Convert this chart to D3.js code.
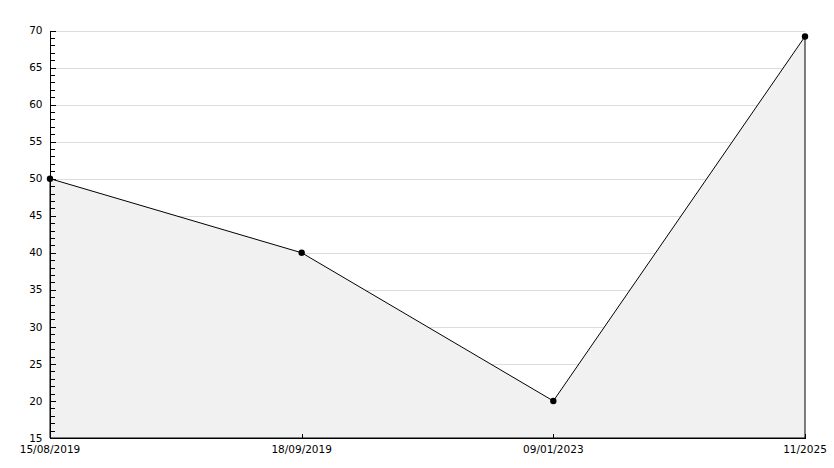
<!DOCTYPE html>
<html>
<head>
<meta charset="utf-8">
<script src="https://cdn.jsdelivr.net/npm/d3@7"></script>
<style>
  body { margin: 0; background: #fff; }
  text { font-family: "DejaVu Sans", sans-serif; font-size: 10.5px; fill: #000; }
  line { shape-rendering: crispEdges; }
</style>
</head>
<body>
<script>
// data
var dates = ["15/08/2019", "18/09/2019", "09/01/2023", "11/2025"];
var values = [50, 40, 20, 69.2];
var yTicks = [15, 20, 25, 30, 35, 40, 45, 50, 55, 60, 65, 70];

var width = 834,
    height = 468;
var margin = {top: 30.5, right: 29, bottom: 30, left: 50};

var svg = d3.select("body").append("svg")
    .attr("width", width)
    .attr("height", height);

var x = d3.scalePoint()
    .domain(dates)
    .range([margin.left, width - margin.right]);

var y = d3.scaleLinear()
    .domain([15, 70])
    .range([height - margin.bottom, margin.top]);

//gridlines
svg.append("g")
  .selectAll("line")
  .data(yTicks.slice(1))
  .enter().append("line")
    .attr("x1", margin.left)
    .attr("x2", width - margin.right)
    .attr("y1", function(d) { return Math.round(y(d)) + 0.5; })
    .attr("y2", function(d) { return Math.round(y(d)) + 0.5; })
    .attr("stroke", "#dcdcdc");

var pts = dates.map(function(d, i) { return [x(d), y(values[i])]; });

// area
var area = d3.area()
    .x(function(d) { return d[0]; })
    .y0(y(15))
    .y1(function(d) { return d[1]; });

svg.append("path")
    .datum(pts)
    .attr("d", area)
    .attr("fill", "#f1f1f1")
    .attr("stroke", "#000")
    .attr("stroke-width", 1);

// y axis with minor ticks
var yAxis = svg.append("g")
    .attr("transform", "translate(" + (margin.left + 0.5) + ",0)");
yAxis.append("line")
    .attr("y1", y(70)).attr("y2", y(15))
    .attr("stroke", "#000");
yAxis.selectAll(".minor")
  .data(d3.range(15, 71, 1))
  .enter().append("line")
    .attr("x1", 0)
    .attr("x2", function(d) { return d % 5 == 0 ? 5 : 4; })
    .attr("y1", function(d) { return Math.round(y(d)) + 0.5; })
    .attr("y2", function(d) { return Math.round(y(d)) + 0.5; })
    .attr("stroke", "#000");
yAxis.selectAll("text")
  .data(yTicks)
  .enter().append("text")
    .attr("x", -8)
    .attr("y", function(d) { return y(d); })
    .attr("dy", "0.35em")
    .attr("text-anchor", "end")
    .text(function(d) { return d; });

// x axis
var xAxis = svg.append("g")
    .attr("transform", "translate(0," + (Math.round(y(15)) + 0.5) + ")");
xAxis.append("line")
    .attr("x1", margin.left).attr("x2", width - margin.right)
    .attr("stroke", "#000");
xAxis.selectAll(".tick")
  .data(dates)
  .enter().append("line")
    .attr("x1", function(d) { return Math.round(x(d)) + 0.5; })
    .attr("x2", function(d) { return Math.round(x(d)) + 0.5; })
    .attr("y1", 0).attr("y2", -5)
    .attr("stroke", "#000");
xAxis.selectAll("text")
  .data(dates)
  .enter().append("text")
    .attr("x", function(d) { return x(d); })
    .attr("y", 11)
    .attr("dy", "0.35em")
    .attr("text-anchor", "middle")
    .text(function(d) { return d; });

// markers
svg.append("g")
  .selectAll("circle")
  .data(pts)
  .enter().append("circle")
    .attr("cx", function(d) { return d[0]; })
    .attr("cy", function(d) { return d[1]; })
    .attr("r", 3.2)
    .attr("fill", "#000");
</script>
</body>
</html>
